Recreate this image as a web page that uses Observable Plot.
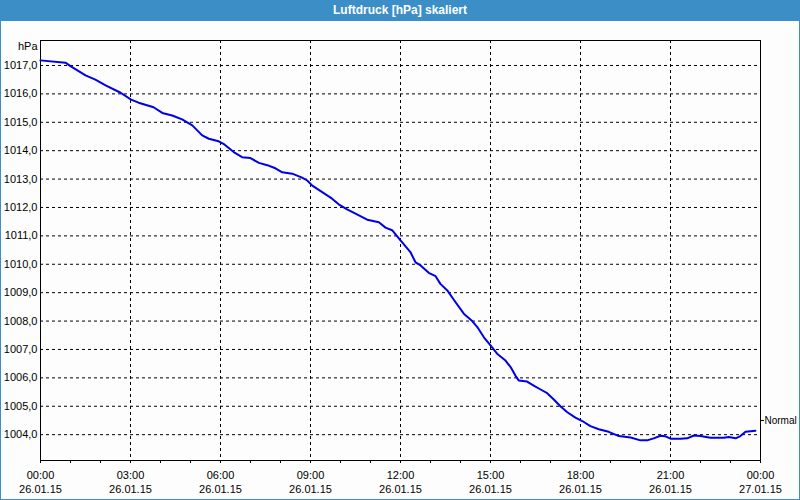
<!DOCTYPE html>
<html>
<head>
<meta charset="utf-8">
<script src="https://cdn.jsdelivr.net/npm/d3@7"></script>
<script src="https://cdn.jsdelivr.net/npm/@observablehq/plot@0.6"></script>
<style>
  html, body { margin: 0; padding: 0; background: #fcfdfc; }
  #wrap { position: relative; width: 800px; height: 500px; background: #fcfdfc; overflow: hidden; }
  #title { position: absolute; left: 0; top: 0; width: 800px; height: 21px; background: #3c8fc6;
           color: #fff; font: bold 12px "Liberation Sans", sans-serif; text-align: center; line-height: 21px; }
  #chart { position: absolute; left: 0; top: 21px; }
  #border { position: absolute; left: 0; top: 0; width: 798px; height: 499px; border: 1px solid #3c8fc6; border-top: none; pointer-events: none; }
</style>
</head>
<body>
<div id="wrap">
  <div id="title">Luftdruck [hPa] skaliert</div>
  <div id="chart"></div>
  <div id="border"></div>
</div>
<script>
// Hours since 26.01.15 00:00
const hours = [0.00,0.83,1.00,1.50,1.83,2.17,2.67,3.02,3.27,3.77,4.06,4.39,4.72,5.06,5.39,5.61,5.94,6.13,6.44,6.72,7.00,7.28,7.56,7.83,8.06,8.39,8.72,8.89,9.06,9.39,9.72,9.94,10.22,10.50,10.89,11.28,11.50,11.72,12.00,12.33,12.50,12.67,12.94,13.17,13.33,13.56,13.83,14.11,14.39,14.56,14.78,15.00,15.22,15.50,15.67,15.83,15.94,16.22,16.44,16.67,16.89,17.11,17.33,17.56,17.83,18.06,18.33,18.61,18.94,19.28,19.67,20.00,20.22,20.44,20.67,20.83,21.00,21.33,21.56,21.78,22.00,22.33,22.78,22.94,23.17,23.33,23.50,23.67,23.83];
// Luftdruck [hPa]
const pressure = [1017.18,1017.10,1016.98,1016.65,1016.50,1016.30,1016.04,1015.80,1015.69,1015.53,1015.33,1015.24,1015.10,1014.89,1014.54,1014.42,1014.33,1014.22,1013.95,1013.77,1013.74,1013.57,1013.49,1013.38,1013.24,1013.19,1013.05,1012.95,1012.77,1012.54,1012.31,1012.11,1011.93,1011.78,1011.57,1011.48,1011.29,1011.20,1010.84,1010.43,1010.07,1009.96,1009.70,1009.58,1009.31,1009.08,1008.67,1008.26,1008.00,1007.79,1007.43,1007.14,1006.85,1006.61,1006.38,1006.08,1005.91,1005.87,1005.73,1005.59,1005.46,1005.24,1005.00,1004.79,1004.60,1004.48,1004.30,1004.19,1004.10,1003.95,1003.90,1003.80,1003.80,1003.87,1003.96,1003.94,1003.86,1003.86,1003.87,1003.97,1003.95,1003.89,1003.89,1003.92,1003.87,1003.95,1004.10,1004.12,1004.14];

const majorTicks = [0, 3, 6, 9, 12, 15, 18, 21, 24];
const majorTickLabels = ["00:00\n26.01.15","03:00\n26.01.15","06:00\n26.01.15","09:00\n26.01.15","12:00\n26.01.15","15:00\n26.01.15","18:00\n26.01.15","21:00\n26.01.15","00:00\n27.01.15"];
const minorTicks = [0,1,2,3,4,5,6,7,8,9,10,11,12,13,14,15,16,17,18,19,20,21,22,23,24];
const yTicks = [1004,1005,1006,1007,1008,1009,1010,1011,1012,1013,1014,1015,1016,1017];
const yTickLabels = ["1004,0","1005,0","1006,0","1007,0","1008,0","1009,0","1010,0","1011,0","1012,0","1013,0","1014,0","1015,0","1016,0","1017,0"];
const normalValue = [1004.5];
const normalLabel = "Normal";
const unitLabel = "hPa";

const data = hours.map((h, i) => ({h, p: pressure[i]}));

const chart = Plot.plot({
  width: 800,
  height: 479,
  marginTop: 19,
  marginBottom: 40,
  marginLeft: 40,
  marginRight: 40,
  style: {fontFamily: "Liberation Sans, sans-serif", fontSize: "11px", background: "transparent", color: "#000", overflow: "visible"},
  x: {domain: [0, 24]},
  y: {domain: [1003.09, 1017.88]},
  marks: [
    Plot.gridX(majorTicks.filter(d => d > 0 && d < 24), {stroke: "#000", strokeOpacity: 1, strokeDasharray: "3,3"}),
    Plot.gridY(yTicks, {stroke: "#000", strokeOpacity: 1, strokeDasharray: "3,3"}),
    Plot.frame({stroke: "#000", strokeWidth: 1}),
    Plot.axisX(minorTicks, {tickSize: 3, tickFormat: () => "", label: null, stroke: "#000"}),
    Plot.axisX(majorTicks, {tickSize: 0, tickPadding: 9, label: null, lineHeight: 1.27,
      tickFormat: d => majorTickLabels[majorTicks.indexOf(d)], fill: "#000"}),
    Plot.axisY(yTicks, {tickSize: 0, tickPadding: 3, label: null,
      tickFormat: d => yTickLabels[yTicks.indexOf(d)], fill: "#000"}),
    Plot.text([unitLabel], {frameAnchor: "top-left", text: d => d, textAnchor: "end", lineAnchor: "middle", dx: -3, dy: 6, fill: "#000"}),
    Plot.ruleY(normalValue, {x1: 24, x2: 24 + 4/30, stroke: "#000"}),
    Plot.text(normalValue, {x: 24, y: d => d, text: () => normalLabel, textAnchor: "start", dx: 4, fontSize: 10, fill: "#000"}),
    Plot.line(data, {x: "h", y: "p", stroke: "#0000e6", strokeWidth: 2})
  ]
});
document.getElementById("chart").appendChild(chart);
</script>
</body>
</html>
